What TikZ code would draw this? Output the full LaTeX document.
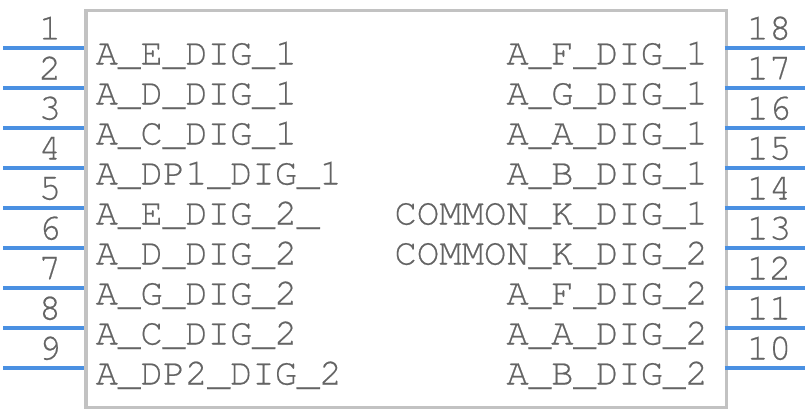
\documentclass[tikz,border=0pt]{standalone}
\usepackage{fontspec}
\setmonofont[FakeBold=0.4]{TeX Gyre Cursor}
\definecolor{pinblue}{RGB}{74,144,226}
\definecolor{boxgray}{RGB}{194,194,194}
\definecolor{txtgray}{RGB}{100,100,100}
\begin{document}
\begin{tikzpicture}[x=1pt,y=-1pt,
  pinline/.style={draw=pinblue,line width=4pt},
  pinnum/.style={font=\ttfamily\fontsize{37.3}{37.3}\selectfont,text=txtgray,inner sep=0pt,anchor=base},
  lbl/.style={font=\ttfamily\fontsize{37.3}{37.3}\selectfont,text=txtgray,inner sep=0pt},
  bodybox/.style={draw=boxgray,line width=3.5pt,inner sep=0pt,anchor=north west}]
\useasboundingbox (0,0) rectangle (808,412);
\node[bodybox,minimum width=640.5pt,minimum height=396.5pt] (body) at (84,9) {};
% left pins
\foreach \i/\t in {1/A\_E\_DIG\_1,2/A\_D\_DIG\_1,3/A\_C\_DIG\_1,4/A\_DP1\_DIG\_1,5/A\_E\_DIG\_2\_,6/A\_D\_DIG\_2,7/A\_G\_DIG\_2,8/A\_C\_DIG\_2,9/A\_DP2\_DIG\_2}{
  \pgfmathsetmacro{\yy}{48+40*(\i-1)}
  \coordinate (L\i a) at (3,\yy);
  \coordinate (L\i b) at (84,\yy);
  \draw[pinline] (L\i a) -- (L\i b);
  \node[pinnum] (Ln\i) at (50,\yy-8.5) {\i};
  \node[lbl,anchor=base west] (Lt\i) at (95.5,\yy+16.5) {\t};
}
% right pins
\foreach \i/\t in {18/A\_F\_DIG\_1,17/A\_G\_DIG\_1,16/A\_A\_DIG\_1,15/A\_B\_DIG\_1,14/COMMON\_K\_DIG\_1,13/COMMON\_K\_DIG\_2,12/A\_F\_DIG\_2,11/A\_A\_DIG\_2,10/A\_B\_DIG\_2}{
  \pgfmathsetmacro{\yy}{48+40*(18-\i)}
  \coordinate (R\i a) at (724.5,\yy);
  \coordinate (R\i b) at (805,\yy);
  \draw[pinline] (R\i a) -- (R\i b);
  \node[pinnum] (Rn\i) at (769,\yy-8.5) {\i};
  \node[lbl,anchor=base east] (Rt\i) at (708,\yy+16.5) {\t};
}
\end{tikzpicture}
\end{document}
